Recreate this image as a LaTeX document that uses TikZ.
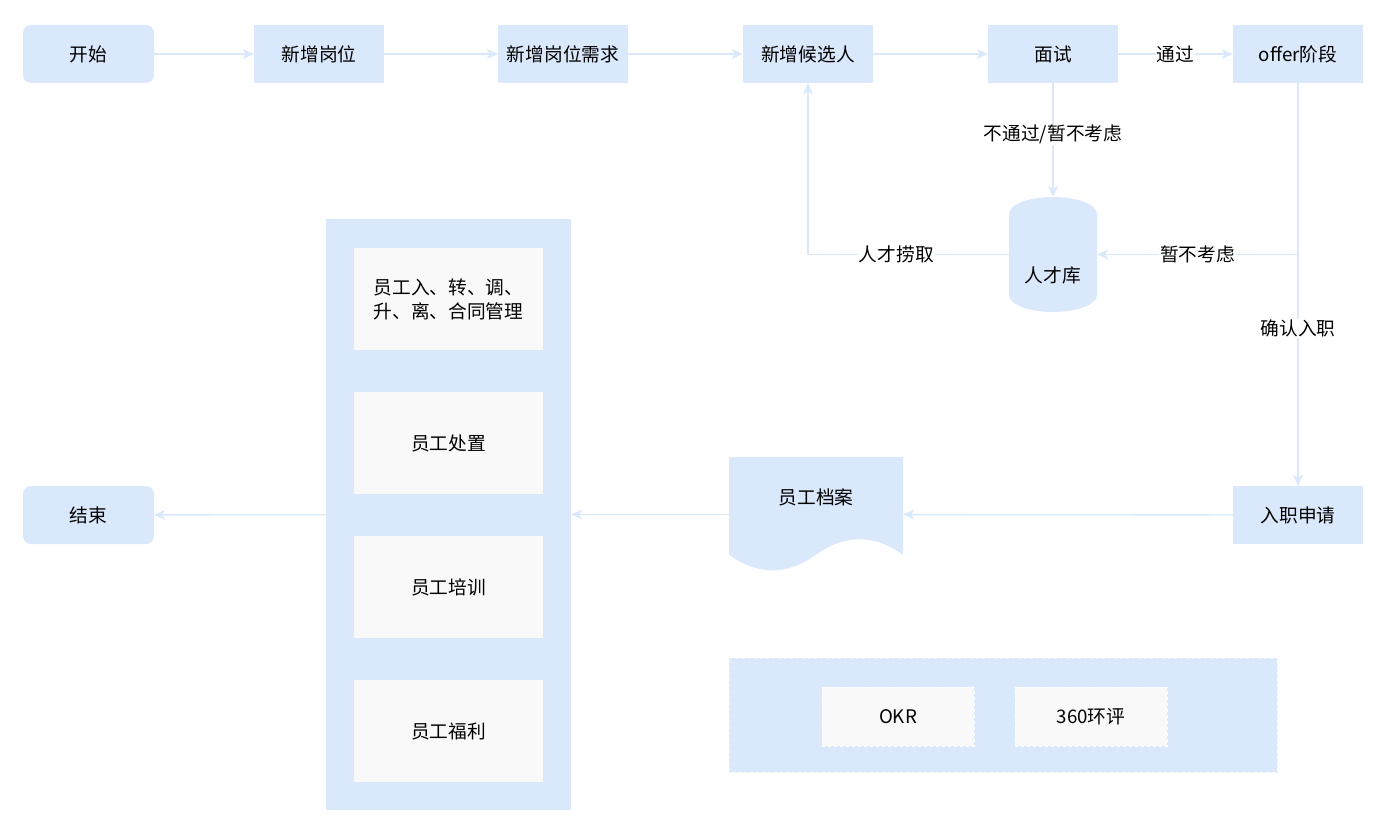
\documentclass[tikz,border=0pt]{standalone}
\usepackage{fontspec}
\setmainfont{Noto Sans CJK SC}
\usetikzlibrary{arrows.meta}
\definecolor{boxblue}{HTML}{DAE8FC}
\definecolor{cardgray}{HTML}{F9F9F9}
\begin{document}
\begin{tikzpicture}[x=1pt, y=-1pt, >={Stealth[length=11pt, width=10pt, inset=3pt]},
    font=\fontsize{18.7pt}{24pt}\selectfont,
    stepbox/.style={fill=boxblue, minimum width=130pt, minimum height=58pt, inner sep=0},
    endbox/.style={stepbox, rounded corners=8pt, minimum width=131pt},
    card/.style={fill=cardgray, minimum width=189pt, minimum height=102pt, inner sep=0, align=center},
    flow/.style={->, draw=boxblue, line width=1.33pt},
    edgelabel/.style={fill=white, inner sep=1pt}]
      \useasboundingbox (0, 0) rectangle (1386, 832);

      \node[endbox] (start) at (88.5, 54) {开始};
      \node[stepbox] (post) at (319, 54) {新增岗位};
      \node[stepbox] (demand) at (563, 54) {新增岗位需求};
      \node[stepbox] (cand) at (808, 54) {新增候选人};
      \node[stepbox] (interview) at (1053, 54) {面试};
      \node[stepbox] (offer) at (1298, 54) {offer阶段};

      \fill[boxblue] (1009, 214) arc[start angle=180, end angle=360, x radius=44, y radius=17]
        -- (1097, 295) arc[start angle=0, end angle=180, x radius=44, y radius=17] -- cycle;
      \node[inner sep=0, minimum width=88pt, minimum height=115pt, label={[yshift=-20.5pt]center:人才库}] (pool) at (1053, 254.5) {};

      \fill[boxblue] (729, 457) -- (903, 457) -- (903, 554.75)
        .. controls (874, 534) and (845, 534) .. (816, 554.75)
        .. controls (787, 575.5) and (758, 575.5) .. (729, 554.75) -- cycle;
      \node[inner sep=0, minimum width=174pt, minimum height=115pt, label={[yshift=17.5pt]center:员工档案}] (doc) at (816, 514.5) {};

      \node[stepbox] (onboard) at (1298, 515) {入职申请};
      \node[endbox] (finish) at (88.5, 515) {结束};

      \node[fill=boxblue, minimum width=245pt, minimum height=591pt, inner sep=0] (staff) at (448.5, 514.5) {};
      \node[card] (change) at (448.5, 299) {员工入、转、调、\\升、离、合同管理};
      \node[card] (handle) at (448.5, 443) {员工处置};
      \node[card] (train) at (448.5, 587) {员工培训};
      \node[card] (welfare) at (448.5, 731) {员工福利};

      \node[fill=boxblue, draw=white!45!boxblue, dashed, minimum width=548pt, minimum height=114pt, inner sep=0] (perf) at (1003, 715) {};
      \node[card, draw=white, dashed, minimum width=152pt, minimum height=59pt] (okr) at (898, 716.5) {OKR};
      \node[card, draw=white, dashed, minimum width=152pt, minimum height=59pt] (review) at (1091, 716.5) {360环评};

      \draw[flow] (start) -- (post);
      \draw[flow] (post) -- (demand);
      \draw[flow] (demand) -- (cand);
      \draw[flow] (cand) -- (interview);
      \draw[flow] (interview) -- node[edgelabel] {通过} (offer);
      \draw[flow] (interview) -- node[edgelabel, pos=0.45] {不通过/暂不考虑} (pool);
      \draw[flow] (offer) |- node[edgelabel, pos=0.75] {暂不考虑} (pool);
      \draw[flow] (pool) -| node[edgelabel, pos=0.28] {人才捞取} (cand);
      \draw[flow] (offer) -- node[edgelabel, pos=0.61] {确认入职} (onboard);
      \draw[flow] (onboard) -- (doc);
      \draw[flow] (doc) -- (staff);
      \draw[flow] (staff) -- (finish);
    \end{tikzpicture}
\end{document}
